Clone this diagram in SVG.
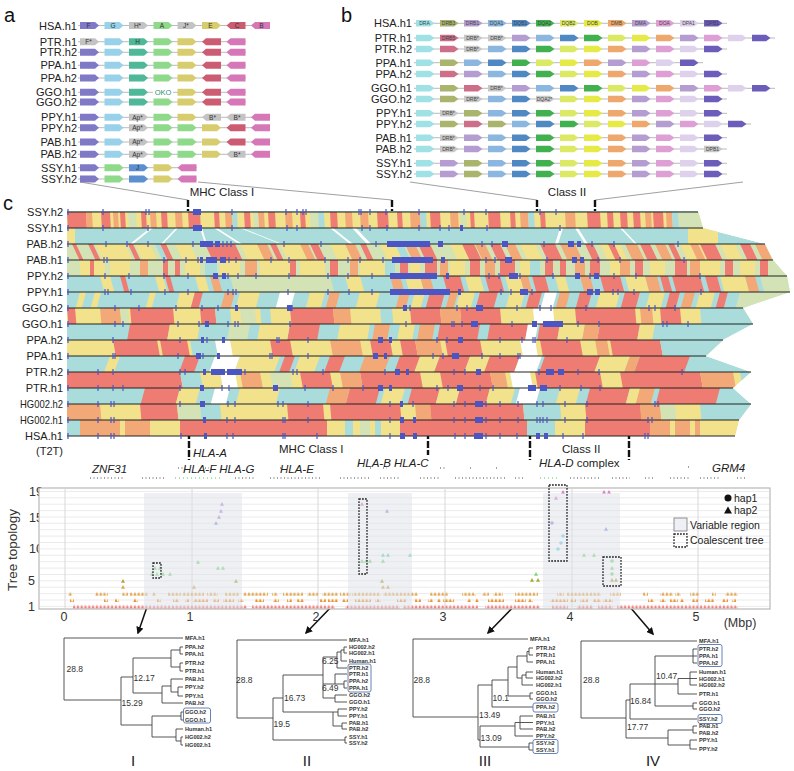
<svg xmlns="http://www.w3.org/2000/svg" width="794" height="771" viewBox="0 0 794 771">
<style>
text{font-family:"Liberation Sans",Arial,sans-serif}
.rl{font-size:11px;fill:#222}
.pl{font-size:20px;fill:#111}
.gt{font-size:6.5px;fill:#333;text-anchor:middle}
.bt{font-size:5px;fill:#444;text-anchor:middle}
.gl{stroke:#bbb;stroke-width:1;fill:none}
.pu{fill:#7f79c6}.lb1{fill:#98d2ea}.gy{fill:#c3c3c3}.tl{fill:#4fb898}.gr{fill:#8ed98a}.ye{fill:#d8cd6e}.rd{fill:#cc5c72}.pk{fill:#d677b8}.bj{fill:#5b8fd0}
.b1{fill:#a0e1e5}.b2{fill:#aab46c}.b3{fill:#b59dd2}.b4{fill:#8ab6df}.b5{fill:#4f88c3}.b6{fill:#41b04e}.b7{fill:#dce965}.b8{fill:#e6ea46}.b9{fill:#eea86e}.bA{fill:#dea0d4}.bB{fill:#ddd1eb}.bC{fill:#6b5db9}.bD{fill:#cd6f89}.bg{fill:#c8c8c8}
.cc{fill:#abdcdc}.cy{fill:#f3e28c}.cr{fill:#ee7c72}.co{fill:#f2a877}.cg{fill:#d4e3b5}.cw{fill:#fff}
.rw{stroke:#222;stroke-width:1.1}
.tk{stroke:#4b56c4;stroke-width:1.2;fill:none}
.bx{fill:#4b56c4}
.dk{stroke:#111;stroke-width:2.4;stroke-dasharray:7 2}
.cn{stroke:#888;stroke-width:.8;fill:none}
.it{font-style:italic}
.lt{font-size:11.5px;fill:#222}
.tr{stroke:#444;stroke-width:.9;fill:none}
.lf{font-size:5.6px;fill:#333;font-weight:bold}
.nm{font-size:8.5px;fill:#333}
.rn{font-size:15px;fill:#222;text-anchor:middle}
.db{fill:none;stroke:#222;stroke-width:1.3;stroke-dasharray:1.8 1.2}
.bb{fill:none;stroke:#6583b8;stroke-width:1}
.ax{font-size:12.5px;fill:#333}
.ar{stroke:#111;stroke-width:1.5;fill:none;marker-end:url(#ah)}
</style>
<defs>
<path id="R" d="M0-3.5h15l4 3.5-4 3.5H0z"/>
<path id="L" d="M19-3.5H4L0 0l4 3.5h15z"/>
<path id="B" d="M0-3.3h14l4.5 3.3-4.5 3.3H0z"/>
<path id="T" d="M-2 1.7 0-1.9 2 1.7z"/>
<clipPath id="rc"><polygon points="67,211 698,211 703,228 765,244 773,260 787,276 790,292 743,308 753,324 723,340 706,356 751,372 733,388 751,404 739,420 735,436 67,436"/></clipPath>
<pattern id="p1" patternUnits="userSpaceOnUse" x="0" y="603.4" width="3.8" height="6"><path d="M.3 5 1.9 1.2 3.5 5z" fill="#f07c7a"/></pattern>
<pattern id="p2" patternUnits="userSpaceOnUse" x="0" y="597" width="3.8" height="6"><path d="M.3 5 1.9 1.2 3.5 5z" fill="#ea9330"/></pattern>
<pattern id="p3" patternUnits="userSpaceOnUse" x="0" y="590.6" width="3.8" height="6"><path d="M.3 5 1.9 1.2 3.5 5z" fill="#dfa24a"/></pattern>
<marker id="ah" viewBox="0 0 10 10" refX="8" refY="5" markerWidth="5" markerHeight="5" orient="auto"><path d="M0 0 10 5 0 10z" fill="#111"/></marker>
</defs>
<rect width="794" height="771" fill="#fff"/>

<!-- panel letters -->
<text class="pl" x="4" y="22">a</text>
<text class="pl" x="341" y="22">b</text>
<text class="pl" x="3" y="210">c</text>

<!-- panel a -->
<g id="a-HSA-h1" transform="translate(0,25.5)"><text class="rl" x="77" y="4" text-anchor="end">HSA.h1</text><path class="gl" d="M78 0H270"/>
<use href="#R" x="80" class="pu"/><use href="#R" x="104.5" class="lb1"/><use href="#R" x="129" class="gy"/><use href="#R" x="153.5" class="gr"/><use href="#R" x="177.5" class="gy"/><use href="#R" x="202" class="ye"/><use href="#L" x="226.5" class="rd"/><use href="#L" x="251" class="pk"/>
<text class="gt"><tspan x="88.5" y="2.3">F</tspan><tspan x="113" y="2.3">G</tspan><tspan x="137.5" y="2.3">H*</tspan><tspan x="162" y="2.3">A</tspan><tspan x="186" y="2.3">J*</tspan><tspan x="210.5" y="2.3">E</tspan><tspan x="237" y="2.3">C</tspan><tspan x="261.5" y="2.3">B</tspan></text></g>
<g id="a-PTR-h1" transform="translate(0,41.7)"><text class="rl" x="77" y="4" text-anchor="end">PTR.h1</text><path class="gl" d="M78 0H246"/>
<use href="#R" x="80" class="gy"/><use href="#R" x="104.5" class="lb1"/><use href="#R" x="129" class="tl"/><use href="#R" x="153.5" class="gr"/><use href="#R" x="177.5" class="ye"/><use href="#L" x="202" class="rd"/><use href="#L" x="226.5" class="pk"/>
<text class="gt"><tspan x="88.5" y="2.3">F*</tspan><tspan x="137.5" y="2.3">H</tspan></text></g>
<g id="a-PTR-h2" transform="translate(0,52.3)"><text class="rl" x="77" y="4" text-anchor="end">PTR.h2</text><path class="gl" d="M78 0H246"/>
<use href="#R" x="80" class="pu"/><use href="#R" x="104.5" class="lb1"/><use href="#R" x="129" class="tl"/><use href="#R" x="153.5" class="gr"/><use href="#R" x="177.5" class="ye"/><use href="#L" x="202" class="rd"/><use href="#L" x="226.5" class="pk"/></g>
<g id="a-PPA-h1" transform="translate(0,65.3)"><text class="rl" x="77" y="4" text-anchor="end">PPA.h1</text><path class="gl" d="M78 0H246"/>
<use href="#R" x="80" class="pu"/><use href="#R" x="104.5" class="lb1"/><use href="#R" x="129" class="tl"/><use href="#R" x="153.5" class="gr"/><use href="#R" x="177.5" class="ye"/><use href="#L" x="202" class="rd"/><use href="#L" x="226.5" class="pk"/></g>
<g id="a-PPA-h2" transform="translate(0,78)"><text class="rl" x="77" y="4" text-anchor="end">PPA.h2</text><path class="gl" d="M78 0H246"/>
<use href="#R" x="80" class="pu"/><use href="#R" x="104.5" class="lb1"/><use href="#R" x="129" class="tl"/><use href="#R" x="153.5" class="gr"/><use href="#R" x="177.5" class="ye"/><use href="#L" x="202" class="rd"/><use href="#L" x="226.5" class="pk"/></g>
<g id="a-GGO-h1" transform="translate(0,92.3)"><text class="rl" x="77" y="4" text-anchor="end">GGO.h1</text><path class="gl" d="M78 0H246"/>
<use href="#R" x="80" class="pu"/><use href="#R" x="104.5" class="lb1"/><use href="#R" x="129" class="tl"/><rect x="153" y="-4" width="20" height="8" fill="#fff"/><use href="#R" x="177.5" class="ye"/><use href="#L" x="202" class="rd"/><use href="#L" x="226.5" class="pk"/>
<text x="163" y="2.6" text-anchor="middle" font-size="7.5" fill="#2b8f73">OKO</text></g>
<g id="a-GGO-h2" transform="translate(0,102)"><text class="rl" x="77" y="4" text-anchor="end">GGO.h2</text><path class="gl" d="M78 0H246"/>
<use href="#R" x="80" class="pu"/><use href="#R" x="104.5" class="lb1"/><use href="#R" x="129" class="tl"/><use href="#R" x="153.5" class="gr"/><use href="#R" x="177.5" class="ye"/><use href="#L" x="202" class="rd"/><use href="#L" x="226.5" class="pk"/></g>
<g id="a-PPY-h1" transform="translate(0,117.3)"><text class="rl" x="77" y="4" text-anchor="end">PPY.h1</text><path class="gl" d="M78 0H270"/>
<use href="#R" x="80" class="pu"/><use href="#R" x="104.5" class="lb1"/><use href="#R" x="129" class="gy"/><use href="#R" x="153.5" class="gr"/><use href="#R" x="177.5" class="ye"/><use href="#L" x="202" class="gy"/><use href="#L" x="226.5" class="gy"/><use href="#L" x="251" class="pk"/>
<text class="gt"><tspan x="137.5" y="2.3">Ap*</tspan><tspan x="212.5" y="2.3">B*</tspan><tspan x="237" y="2.3">B*</tspan></text></g>
<g id="a-PPY-h2" transform="translate(0,127.7)"><text class="rl" x="77" y="4" text-anchor="end">PPY.h2</text><path class="gl" d="M78 0H270"/>
<use href="#R" x="80" class="pu"/><use href="#R" x="104.5" class="lb1"/><use href="#R" x="129" class="gy"/><use href="#R" x="153.5" class="gr"/><use href="#R" x="177.5" class="gr"/><use href="#R" x="202" class="ye"/><use href="#L" x="226.5" class="rd"/><use href="#L" x="251" class="pk"/>
<text class="gt"><tspan x="137.5" y="2.3">Ap*</tspan></text></g>
<g id="a-PAB-h1" transform="translate(0,142)"><text class="rl" x="77" y="4" text-anchor="end">PAB.h1</text><path class="gl" d="M78 0H270"/>
<use href="#R" x="80" class="pu"/><use href="#R" x="104.5" class="lb1"/><use href="#R" x="129" class="gy"/><use href="#R" x="153.5" class="gr"/><use href="#R" x="177.5" class="gr"/><use href="#R" x="202" class="ye"/><use href="#L" x="226.5" class="rd"/><use href="#L" x="251" class="pk"/>
<text class="gt"><tspan x="137.5" y="2.3">Ap*</tspan></text></g>
<g id="a-PAB-h2" transform="translate(0,154.3)"><text class="rl" x="77" y="4" text-anchor="end">PAB.h2</text><path class="gl" d="M78 0H270"/>
<use href="#R" x="80" class="pu"/><use href="#R" x="104.5" class="lb1"/><use href="#R" x="129" class="gy"/><use href="#R" x="153.5" class="gr"/><use href="#R" x="177.5" class="gr"/><use href="#R" x="202" class="ye"/><use href="#L" x="226.5" class="gy"/><use href="#L" x="251" class="pk"/>
<text class="gt"><tspan x="137.5" y="2.3">Ap*</tspan><tspan x="237" y="2.3">B*</tspan></text></g>
<g id="a-SSY-h1" transform="translate(0,167.7)"><text class="rl" x="77" y="4" text-anchor="end">SSY.h1</text><path class="gl" d="M78 0H197"/>
<use href="#R" x="80" class="pu"/><use href="#R" x="104.5" class="gr"/><use href="#R" x="129" class="bj"/><use href="#R" x="153.5" class="ye"/><use href="#L" x="177.5" class="pk"/>
<text class="gt"><tspan x="137.5" y="2.3">J</tspan></text></g>
<g id="a-SSY-h2" transform="translate(0,179)"><text class="rl" x="77" y="4" text-anchor="end">SSY.h2</text><path class="gl" d="M78 0H197"/>
<use href="#R" x="80" class="pu"/><use href="#R" x="104.5" class="gr"/><use href="#R" x="129" class="bj"/><use href="#R" x="153.5" class="ye"/><use href="#L" x="177.5" class="pk"/></g>

<!-- panel b -->
<g id="b-HSA-h1" transform="translate(0,23.3)"><text class="rl" x="412" y="4" text-anchor="end">HSA.h1</text><path class="gl" d="M414 0H727"/>
<use href="#B" x="416" class="b1"/><use href="#B" x="440" class="b2"/><use href="#B" x="464" class="b3"/><use href="#B" x="488" class="b4"/><use href="#B" x="512" class="b5"/><use href="#B" x="536" class="b6"/><use href="#B" x="560" class="b7"/><use href="#B" x="584" class="b8"/><use href="#B" x="608" class="b9"/><use href="#B" x="632" class="b3"/><use href="#B" x="656" class="bA"/><use href="#B" x="680" class="bB"/><use href="#B" x="704" class="bC"/>
<text class="bt"><tspan x="424.5" y="1.8">DRA</tspan><tspan x="448.5" y="1.8">DRB3</tspan><tspan x="472.5" y="1.8">DRB1</tspan><tspan x="496.5" y="1.8">DQA1</tspan><tspan x="520.5" y="1.8">DQB1</tspan><tspan x="544.5" y="1.8">DQA2</tspan><tspan x="568.5" y="1.8">DQB2</tspan><tspan x="592.5" y="1.8">DOB</tspan><tspan x="616.5" y="1.8">DMB</tspan><tspan x="640.5" y="1.8">DMA</tspan><tspan x="664.5" y="1.8">DOA</tspan><tspan x="688.5" y="1.8">DPA1</tspan><tspan x="712.5" y="1.8">DPB1</tspan></text></g>
<g id="b-PTR-h1" transform="translate(0,38)"><text class="rl" x="412" y="4" text-anchor="end">PTR.h1</text><path class="gl" d="M414 0H775"/>
<use href="#B" x="416" class="b1"/><use href="#B" x="440" class="bD"/><use href="#B" x="464" class="bg"/><use href="#B" x="488" class="bg"/><use href="#B" x="512" class="b3"/><use href="#B" x="536" class="b4"/><use href="#B" x="560" class="b5"/><use href="#B" x="584" class="b6"/><use href="#B" x="608" class="b7"/><use href="#B" x="632" class="b8"/><use href="#B" x="656" class="b9"/><use href="#B" x="680" class="b3"/><use href="#B" x="704" class="bA"/><use href="#B" x="728" class="bB"/><use href="#B" x="752" class="bC"/>
<text class="bt"><tspan x="448.5" y="1.8">DRB5</tspan><tspan x="472.5" y="1.8">DRB*</tspan><tspan x="496.5" y="1.8">DRB*</tspan></text></g>
<g id="b-PTR-h2" transform="translate(0,49)"><text class="rl" x="412" y="4" text-anchor="end">PTR.h2</text><path class="gl" d="M414 0H727"/>
<use href="#B" x="416" class="b1"/><use href="#B" x="440" class="bD"/><use href="#B" x="464" class="bg"/><use href="#B" x="488" class="b4"/><use href="#B" x="512" class="b5"/><use href="#B" x="536" class="b6"/><use href="#B" x="560" class="b7"/><use href="#B" x="584" class="b8"/><use href="#B" x="608" class="b9"/><use href="#B" x="632" class="b3"/><use href="#B" x="656" class="bA"/><use href="#B" x="680" class="bB"/><use href="#B" x="704" class="bC"/>
<text class="bt"><tspan x="472.5" y="1.8">DRB*</tspan></text></g>
<g id="b-PPA-h1" transform="translate(0,62.7)"><text class="rl" x="412" y="4" text-anchor="end">PPA.h1</text><path class="gl" d="M414 0H703"/>
<use href="#B" x="416" class="b1"/><use href="#B" x="440" class="b2"/><use href="#B" x="464" class="b4"/><use href="#B" x="488" class="b5"/><use href="#B" x="512" class="b6"/><use href="#B" x="536" class="b7"/><use href="#B" x="560" class="b8"/><use href="#B" x="584" class="b9"/><use href="#B" x="608" class="b3"/><use href="#B" x="632" class="bA"/><use href="#B" x="656" class="bB"/><use href="#B" x="680" class="bC"/></g>
<g id="b-PPA-h2" transform="translate(0,74)"><text class="rl" x="412" y="4" text-anchor="end">PPA.h2</text><path class="gl" d="M414 0H727"/>
<use href="#B" x="416" class="b1"/><use href="#B" x="440" class="bD"/><use href="#B" x="464" class="b3"/><use href="#B" x="488" class="b4"/><use href="#B" x="512" class="b5"/><use href="#B" x="536" class="b6"/><use href="#B" x="560" class="b7"/><use href="#B" x="584" class="b8"/><use href="#B" x="608" class="b9"/><use href="#B" x="632" class="b3"/><use href="#B" x="656" class="bA"/><use href="#B" x="680" class="bB"/><use href="#B" x="704" class="bC"/></g>
<g id="b-GGO-h1" transform="translate(0,88.3)"><text class="rl" x="412" y="4" text-anchor="end">GGO.h1</text><path class="gl" d="M414 0H775"/>
<use href="#B" x="416" class="b1"/><use href="#B" x="440" class="b2"/><use href="#B" x="464" class="bD"/><use href="#B" x="488" class="bg"/><use href="#B" x="512" class="b3"/><use href="#B" x="536" class="b4"/><use href="#B" x="560" class="b5"/><use href="#B" x="584" class="b6"/><use href="#B" x="608" class="b7"/><use href="#B" x="632" class="b8"/><use href="#B" x="656" class="b9"/><use href="#B" x="680" class="b3"/><use href="#B" x="704" class="bA"/><use href="#B" x="728" class="bB"/><use href="#B" x="752" class="bC"/>
<text class="bt"><tspan x="496.5" y="1.8">DRB*</tspan></text></g>
<g id="b-GGO-h2" transform="translate(0,99)"><text class="rl" x="412" y="4" text-anchor="end">GGO.h2</text><path class="gl" d="M414 0H727"/>
<use href="#B" x="416" class="b1"/><use href="#B" x="440" class="b2"/><use href="#B" x="464" class="bg"/><use href="#B" x="488" class="b4"/><use href="#B" x="512" class="b5"/><use href="#B" x="536" class="bg"/><use href="#B" x="560" class="b7"/><use href="#B" x="584" class="b8"/><use href="#B" x="608" class="b9"/><use href="#B" x="632" class="b3"/><use href="#B" x="656" class="bA"/><use href="#B" x="680" class="bB"/><use href="#B" x="704" class="bC"/>
<text class="bt"><tspan x="472.5" y="1.8">DRB*</tspan><tspan x="544.5" y="1.8">DQA2*</tspan></text></g>
<g id="b-PPY-h1" transform="translate(0,113.3)"><text class="rl" x="412" y="4" text-anchor="end">PPY.h1</text><path class="gl" d="M414 0H727"/>
<use href="#B" x="416" class="b1"/><use href="#B" x="440" class="bg"/><use href="#B" x="464" class="b2"/><use href="#B" x="488" class="b4"/><use href="#B" x="512" class="b5"/><use href="#B" x="536" class="b6"/><use href="#B" x="560" class="b7"/><use href="#B" x="584" class="b8"/><use href="#B" x="608" class="b9"/><use href="#B" x="632" class="b3"/><use href="#B" x="656" class="bA"/><use href="#B" x="680" class="bB"/><use href="#B" x="704" class="bC"/>
<text class="bt"><tspan x="448.5" y="1.8">DRB*</tspan></text></g>
<g id="b-PPY-h2" transform="translate(0,124)"><text class="rl" x="412" y="4" text-anchor="end">PPY.h2</text><path class="gl" d="M414 0H751"/>
<use href="#B" x="416" class="b1"/><use href="#B" x="440" class="b2"/><use href="#B" x="464" class="bD"/><use href="#B" x="488" class="b2"/><use href="#B" x="512" class="b4"/><use href="#B" x="536" class="b5"/><use href="#B" x="560" class="b6"/><use href="#B" x="584" class="b7"/><use href="#B" x="608" class="b8"/><use href="#B" x="632" class="b9"/><use href="#B" x="656" class="b3"/><use href="#B" x="680" class="bA"/><use href="#B" x="704" class="bB"/><use href="#B" x="728" class="bC"/></g>
<g id="b-PAB-h1" transform="translate(0,137.7)"><text class="rl" x="412" y="4" text-anchor="end">PAB.h1</text><path class="gl" d="M414 0H727"/>
<use href="#B" x="416" class="b1"/><use href="#B" x="440" class="bg"/><use href="#B" x="464" class="b3"/><use href="#B" x="488" class="b4"/><use href="#B" x="512" class="b5"/><use href="#B" x="536" class="b6"/><use href="#B" x="560" class="b7"/><use href="#B" x="584" class="b8"/><use href="#B" x="608" class="b9"/><use href="#B" x="632" class="b3"/><use href="#B" x="656" class="bA"/><use href="#B" x="680" class="bB"/><use href="#B" x="704" class="bC"/>
<text class="bt"><tspan x="448.5" y="1.8">DRB*</tspan></text></g>
<g id="b-PAB-h2" transform="translate(0,149)"><text class="rl" x="412" y="4" text-anchor="end">PAB.h2</text><path class="gl" d="M414 0H727"/>
<use href="#B" x="416" class="b1"/><use href="#B" x="440" class="bg"/><use href="#B" x="464" class="b3"/><use href="#B" x="488" class="b4"/><use href="#B" x="512" class="b5"/><use href="#B" x="536" class="b6"/><use href="#B" x="560" class="b7"/><use href="#B" x="584" class="b8"/><use href="#B" x="608" class="b9"/><use href="#B" x="632" class="b3"/><use href="#B" x="656" class="bA"/><use href="#B" x="680" class="bB"/><use href="#B" x="704" class="bg"/>
<text class="bt"><tspan x="448.5" y="1.8">DRB*</tspan><tspan x="712.5" y="1.8">DPB1</tspan></text></g>
<g id="b-SSY-h1" transform="translate(0,163.3)"><text class="rl" x="412" y="4" text-anchor="end">SSY.h1</text><path class="gl" d="M414 0H727"/>
<use href="#B" x="416" class="b1"/><use href="#B" x="440" class="b3"/><use href="#B" x="464" class="b2"/><use href="#B" x="488" class="b4"/><use href="#B" x="512" class="b5"/><use href="#B" x="536" class="b6"/><use href="#B" x="560" class="b7"/><use href="#B" x="584" class="b8"/><use href="#B" x="608" class="b9"/><use href="#B" x="632" class="b3"/><use href="#B" x="656" class="bA"/><use href="#B" x="680" class="bB"/><use href="#B" x="704" class="bC"/></g>
<g id="b-SSY-h2" transform="translate(0,174)"><text class="rl" x="412" y="4" text-anchor="end">SSY.h2</text><path class="gl" d="M414 0H727"/>
<use href="#B" x="416" class="b1"/><use href="#B" x="440" class="b3"/><use href="#B" x="464" class="b2"/><use href="#B" x="488" class="b4"/><use href="#B" x="512" class="b5"/><use href="#B" x="536" class="b6"/><use href="#B" x="560" class="b7"/><use href="#B" x="584" class="b8"/><use href="#B" x="608" class="b9"/><use href="#B" x="632" class="b3"/><use href="#B" x="656" class="bA"/><use href="#B" x="680" class="bB"/><use href="#B" x="704" class="bC"/></g>

<!-- connectors -->
<g id="connectors">
<path class="cn" d="M80 182L188 200M198 182L392 200M410 182L537 200M743 182L595 200"/>
<path class="dk" d="M188 200V219M392 200V219M537 200V219M595 200V219"/>
<path class="dk" d="M189 432V460M428 432V455M530 432V460M629 432V460"/>
<path class="ar" d="M157 578L138 633"/>
<path class="ar" d="M363 574L306 633"/>
<path class="ar" d="M558 561L488 633"/>
<path class="ar" d="M612 586L653 634"/>
</g>
<text class="lt" x="222" y="196" text-anchor="middle">MHC Class I</text>
<text class="lt" x="567" y="196" text-anchor="middle">Class II</text>

<!-- panel c ribbons -->
<g id="ribbons" clip-path="url(#rc)">
<polygon class="cc" points="67,211 698,211 703,228 765,244 773,260 787,276 790,292 743,308 753,324 723,340 706,356 751,372 733,388 751,404 739,420 735,436 67,436"/>
<g transform="translate(0,212) skewX(3)">
<path class="cy" d="M60 0h660v16h-660z"/>
<path class="cr" d="M67 0h19v16h-19zM101 0h9v16h-9zM120 0h5v16h-5zM141 0h5v16h-5zM161 0h6v16h-6zM188 0h12v16h-12zM214 0h5v16h-5zM244 0h6v16h-6zM268 0h7v16h-7zM300 0h5v16h-5zM330 0h7v16h-7zM377 0h11v16h-11zM397 0h5v16h-5zM430 0h10v16h-10zM470 0h4v16h-4zM488 0h12v16h-12zM510 0h5v16h-5zM540 0h5v16h-5zM587 0h13v16h-13zM607 0h6v16h-6zM620 0h7v16h-7zM633 0h7v16h-7zM653 0h10v16h-10z"/>
<path class="co" d="M86 0h6v16h-6zM113 0h5v16h-5zM150 0h6v16h-6zM175 0h7v16h-7zM225 0h7v16h-7zM258 0h6v16h-6zM285 0h7v16h-7zM345 0h7v16h-7zM360 0h8v16h-8zM410 0h10v16h-10zM450 0h8v16h-8zM520 0h8v16h-8zM565 0h10v16h-10zM645 0h6v16h-6zM666 0h6v16h-6z"/>
<path class="cg" d="M128 0h8v16h-8zM253 0h5v16h-5zM310 0h8v16h-8zM460 0h6v16h-6zM678 0h30v16h-30z"/>
<path class="cc" d="M232 0h5v16h-5zM318 0h6v16h-6zM420 0h6v16h-6zM528 0h6v16h-6zM672 0h6v16h-6z"/>
</g>
<g transform="translate(0,228)">
<path class="cy" d="M67 0h8v16h-8zM688 0h30v16h-30z"/>
<path class="cw" d="M150 0h3l-20 16h-3zM176 0h2l-15 16h-2zM200 0h2l5 16h-2zM214 0h3l25 16h-3zM240 0h2l40 16h-2zM330 0h3l20 16h-3zM352 0h4l15 16h-4zM560 0h3l-5 16h-3zM575 0h3l10 16h-3zM620 0h2l15 16h-2z"/>
</g>
<g transform="translate(0,244) skewX(25)">
<path class="cg" d="M40 0h760v16h-760z"/>
<path class="cy" d="M95 0h30v16h-30zM135 0h15v16h-15zM175 0h15v16h-15zM240 0h20v16h-20zM280 0h25v16h-25zM330 0h25v16h-25zM380 0h20v16h-20zM450 0h15v16h-15zM520 0h15v16h-15zM600 0h20v16h-20zM680 0h20v16h-20zM720 0h15v16h-15z"/>
<path class="cr" d="M72 0h4v16h-4zM88 0h5v16h-5zM128 0h5v16h-5zM160 0h6v16h-6zM205 0h30v16h-30zM270 0h6v16h-6zM310 0h8v16h-8zM360 0h6v16h-6zM418 0h12v16h-12zM462 0h12v16h-12zM490 0h10v16h-10zM540 0h15v16h-15zM585 0h8v16h-8zM608 0h6v16h-6zM640 0h10v16h-10zM668 0h6v16h-6zM700 0h15v16h-15zM740 0h10v16h-10z"/>
<path class="co" d="M257 0h10v16h-10zM300 0h8v16h-8zM345 0h10v16h-10zM405 0h10v16h-10zM475 0h10v16h-10zM505 0h10v16h-10zM560 0h15v16h-15zM625 0h12v16h-12zM655 0h10v16h-10zM690 0h8v16h-8zM755 0h10v16h-10z"/>
<path class="cc" d="M155 0h5v16h-5zM395 0h8v16h-8z"/>
</g>
<g transform="translate(0,260)">
<path class="cg" d="M60 0h740v16h-740z"/>
<path class="cy" d="M80 0h25v16h-25zM110 0h20v16h-20zM185 0h15v16h-15zM220 0h20v16h-20zM260 0h30v16h-30zM300 0h25v16h-25zM360 0h25v16h-25zM410 0h10v16h-10zM450 0h15v16h-15zM520 0h20v16h-20zM610 0h15v16h-15zM650 0h15v16h-15zM700 0h20v16h-20zM740 0h15v16h-15z"/>
<path class="cr" d="M90 0h4v16h-4zM163 0h5v16h-5zM175 0h5v16h-5zM290 0h6v16h-6zM330 0h8v16h-8zM400 0h8v16h-8zM425 0h12v16h-12zM470 0h10v16h-10zM500 0h15v16h-15zM545 0h8v16h-8zM560 0h6v16h-6zM590 0h10v16h-10zM635 0h8v16h-8zM675 0h12v16h-12zM725 0h8v16h-8zM760 0h8v16h-8z"/>
<path class="co" d="M140 0h8v16h-8zM245 0h12v16h-12zM350 0h8v16h-8zM440 0h8v16h-8zM485 0h10v16h-10zM575 0h10v16h-10zM620 0h10v16h-10zM690 0h10v16h-10z"/>
<path class="cc" d="M205 0h12v16h-12zM385 0h10v16h-10zM530 0h10v16h-10z"/>
</g>
<g transform="translate(0,276) skewX(15)">
<path class="cg" d="M230 0h100v16h-100zM760 0h40v16h-40z"/>
<path class="cy" d="M100 0h10v16h-10zM155 0h8v16h-8zM195 0h10v16h-10zM345 0h15v16h-15zM405 0h15v16h-15zM465 0h15v16h-15zM505 0h15v16h-15zM555 0h10v16h-10zM625 0h20v16h-20zM720 0h25v16h-25z"/>
<path class="cr" d="M120 0h5v16h-5zM165 0h5v16h-5zM443 0h17v16h-17zM485 0h15v16h-15zM532 0h13v16h-13zM600 0h20v16h-20zM660 0h8v16h-8zM672 0h28v16h-28zM705 0h12v16h-12z"/>
<path class="co" d="M210 0h8v16h-8zM390 0h10v16h-10zM420 0h10v16h-10zM520 0h8v16h-8zM580 0h10v16h-10zM645 0h12v16h-12zM745 0h10v16h-10z"/>
</g>
<g transform="translate(0,292) skewX(-15)">
<path class="cy" d="M80 0h6v16h-6zM95 0h6v16h-6zM150 0h6v16h-6zM180 0h15v16h-15zM240 0h20v16h-20zM310 0h15v16h-15zM360 0h20v16h-20zM415 0h10v16h-10zM460 0h15v16h-15zM510 0h15v16h-15zM600 0h20v16h-20zM650 0h15v16h-15zM700 0h15v16h-15z"/>
<path class="cr" d="M195 0h8v16h-8zM430 0h15v16h-15zM480 0h18v16h-18zM530 0h12v16h-12zM580 0h12v16h-12zM625 0h15v16h-15zM670 0h10v16h-10zM720 0h8v16h-8z"/>
<path class="co" d="M225 0h10v16h-10zM330 0h10v16h-10zM400 0h10v16h-10zM450 0h8v16h-8zM560 0h10v16h-10zM685 0h10v16h-10z"/>
<path class="cw" d="M280 0h15v16h-15zM545 0h12v16h-12z"/>
<path class="cg" d="M740 0h60v16h-60z"/>
</g>
<g transform="translate(0,308) skewX(5)">
<path class="cy" d="M55 0h745v16h-745z"/>
<path class="cr" d="M67 0h8v16h-8zM130 0h43v16h-43zM200 0h15v16h-15zM290 0h43v16h-43zM410 0h30v16h-30zM460 0h40v16h-40zM575 0h60v16h-60zM660 0h20v16h-20z"/>
<path class="co" d="M100 0h20v16h-20zM333 0h17v16h-17zM440 0h20v16h-20zM640 0h12v16h-12z"/>
<path class="cc" d="M215 0h15v16h-15zM260 0h10v16h-10zM380 0h12v16h-12zM700 0h100v16h-100z"/>
<path class="cw" d="M533 0h20v16h-20z"/>
<path class="cg" d="M120 0h8v16h-8zM240 0h15v16h-15z"/>
</g>
<g transform="translate(0,324) skewX(-10)">
<path class="cr" d="M130 0h40v16h-40zM290 0h30v16h-30zM440 0h40v16h-40zM490 0h38v16h-38zM540 0h20v16h-20zM600 0h40v16h-40z"/>
<path class="cy" d="M170 0h30v16h-30zM260 0h30v16h-30zM340 0h30v16h-30zM400 0h15v16h-15zM560 0h25v16h-25zM640 0h15v16h-15z"/>
<path class="co" d="M375 0h15v16h-15zM420 0h15v16h-15zM585 0h15v16h-15z"/>
<path class="cw" d="M528 0h10v16h-10z"/>
<path class="cg" d="M230 0h20v16h-20z"/>
</g>
<g transform="translate(0,340) skewX(10)">
<path class="cy" d="M55 0h745v16h-745z"/>
<path class="cr" d="M113 0h44v16h-44zM160 0h27v16h-27zM270 0h20v16h-20zM370 0h20v16h-20zM400 0h15v16h-15zM445 0h35v16h-35zM540 0h40v16h-40zM610 0h50v16h-50z"/>
<path class="co" d="M330 0h30v16h-30zM415 0h25v16h-25zM595 0h12v16h-12z"/>
<path class="cc" d="M190 0h25v16h-25zM660 0h80v16h-80z"/>
<path class="cw" d="M215 0h15v16h-15zM520 0h15v16h-15z"/>
</g>
<g transform="translate(0,356) skewX(-20)">
<path class="cy" d="M110 0h10v16h-10zM240 0h40v16h-40zM300 0h20v16h-20zM420 0h20v16h-20zM470 0h20v16h-20zM600 0h30v16h-30z"/>
<path class="cr" d="M185 0h15v16h-15zM285 0h10v16h-10zM330 0h15v16h-15zM400 0h20v16h-20zM440 0h30v16h-30zM490 0h30v16h-30zM545 0h55v16h-55zM640 0h50v16h-50z"/>
<path class="co" d="M365 0h25v16h-25zM630 0h10v16h-10z"/>
<path class="cw" d="M215 0h25v16h-25zM520 0h22v16h-22z"/>
</g>
<g transform="translate(0,372) skewX(10)">
<path class="cy" d="M55 0h745v16h-745z"/>
<path class="cr" d="M55 0h125v16h-125zM300 0h30v16h-30zM360 0h60v16h-60zM440 0h50v16h-50zM535 0h65v16h-65zM620 0h80v16h-80z"/>
<path class="cc" d="M180 0h20v16h-20zM740 0h60v16h-60z"/>
<path class="cw" d="M220 0h15v16h-15zM510 0h20v16h-20z"/>
<path class="co" d="M240 0h20v16h-20zM340 0h20v16h-20zM490 0h15v16h-15zM700 0h33v16h-33z"/>
<path class="cg" d="M270 0h20v16h-20z"/>
</g>
<g transform="translate(0,388) skewX(-15)">
<path class="cr" d="M145 0h35v16h-35zM350 0h30v16h-30zM412 0h28v16h-28zM460 0h30v16h-30zM590 0h40v16h-40zM660 0h60v16h-60z"/>
<path class="cy" d="M180 0h20v16h-20zM240 0h40v16h-40zM385 0h20v16h-20zM440 0h20v16h-20zM490 0h25v16h-25zM560 0h20v16h-20zM630 0h25v16h-25z"/>
<path class="cw" d="M520 0h20v16h-20zM215 0h15v16h-15z"/>
<path class="co" d="M330 0h20v16h-20zM640 0h15v16h-15z"/>
</g>
<g transform="translate(0,404) skewX(5)">
<path class="cy" d="M55 0h745v16h-745z"/>
<path class="co" d="M55 0h45v16h-45zM415 0h15v16h-15zM640 0h20v16h-20z"/>
<path class="cr" d="M140 0h37v16h-37zM287 0h36v16h-36zM330 0h70v16h-70zM430 0h93v16h-93zM585 0h55v16h-55z"/>
<path class="cg" d="M177 0h23v16h-23zM660 0h15v16h-15z"/>
<path class="cc" d="M200 0h20v16h-20zM523 0h37v16h-37zM700 0h100v16h-100z"/>
</g>
<g transform="translate(0,420)">
<path class="cy" d="M55 0h745v16h-745z"/>
<path class="co" d="M80 0h70v16h-70zM650 0h50v16h-50z"/>
<path class="cr" d="M180 0h147v16h-147zM400 0h127v16h-127zM585 0h65v16h-65z"/>
<path class="cc" d="M55 0h25v16h-25zM527 0h28v16h-28zM345 0h8v16h-8zM375 0h6v16h-6z"/>
<path class="cg" d="M360 0h10v16h-10z"/>
<path class="cy" d="M120 0h5v16h-5zM670 0h5v16h-5zM690 0h5v16h-5z"/>
</g>
</g>

<!-- panel c rows -->
<g id="c-SSY-h2" transform="translate(0,212)"><text class="rl" x="63" y="4" text-anchor="end">SSY.h2</text><path class="rw" d="M67 0H698"/>
<path class="tk" d="M68-3v6M103-3v6M146-3v6M149-3v6M232-3v6M286-3v6M297-3v6M303-3v6M306-3v6M359-3v6M361-3v6M370-3v6M386-3v6M419-3v6M464-3v6M486-3v6M540-3v6M556-3v6"/>
<path class="bx" d="M193-3h8v6h-8z"/></g>
<g id="c-SSY-h1" transform="translate(0,228)"><text class="rl" x="63" y="4" text-anchor="end">SSY.h1</text><path class="rw" d="M67 0H703"/>
<path class="tk" d="M68-3v6M103-3v6M148-3v6M232-3v6M287-3v6M297-3v6M362-3v6M370-3v6M387-3v6M419-3v6M440-3v6M449-3v6M487-3v6M560-3v6"/>
<path class="bx" d="M193-3h9v6h-9zM460-3h3v6h-3z"/></g>
<g id="c-PAB-h2" transform="translate(0,244)"><text class="rl" x="63" y="4" text-anchor="end">PAB.h2</text><path class="rw" d="M67 0H765"/>
<path class="tk" d="M68-3v6M106-3v6M127-3v6M148-3v6M193-3v6M223-3v6M227-3v6M231-3v6M284-3v6M321-3v6M376-3v6M482-3v6M492-3v6M544-3v6M592-3v6M614-3v6M678-3v6"/>
<path class="bx" d="M200-3h13v6h-13zM215-3h5v6h-5zM387-3h43v6h-43zM438-3h5v6h-5zM502-3h6v6h-6zM568-3h6v6h-6zM577-3h4v6h-4z"/></g>
<g id="c-PAB-h1" transform="translate(0,260)"><text class="rl" x="63" y="4" text-anchor="end">PAB.h1</text><path class="rw" d="M67 0H773"/>
<path class="tk" d="M68-3v6M104-3v6M107-3v6M164-3v6M186-3v6M198-3v6M229-3v6M236-3v6M271-3v6M289-3v6M325-3v6M348-3v6M360-3v6M383-3v6M486-3v6M495-3v6M547-3v6M598-3v6M620-3v6M684-3v6"/>
<path class="bx" d="M200-3h3v6h-3zM206-3h11v6h-11zM220-3h6v6h-6zM392-3h41v6h-41zM441-3h4v6h-4zM505-3h7v6h-7zM572-3h5v6h-5zM580-3h4v6h-4z"/></g>
<g id="c-PPY-h2" transform="translate(0,276)"><text class="rl" x="63" y="4" text-anchor="end">PPY.h2</text><path class="rw" d="M67 0H787"/>
<path class="tk" d="M68-3v6M105-3v6M129-3v6M164-3v6M188-3v6M228-3v6M238-3v6M256-3v6M289-3v6M328-3v6M348-3v6M372-3v6M489-3v6M499-3v6M520-3v6M553-3v6M590-3v6M614-3v6M636-3v6M700-3v6"/>
<path class="bx" d="M213-3h5v6h-5zM222-3h4v6h-4zM390-3h47v6h-47zM446-3h3v6h-3zM509-3h9v6h-9zM575-3h5v6h-5zM594-3h5v6h-5z"/></g>
<g id="c-PPY-h1" transform="translate(0,292)"><text class="rl" x="63" y="4" text-anchor="end">PPY.h1</text><path class="rw" d="M67 0H790"/>
<path class="tk" d="M68-3v6M105-3v6M108-3v6M131-3v6M165-3v6M188-3v6M228-3v6M233-3v6M236-3v6M288-3v6M328-3v6M349-3v6M372-3v6M501-3v6M511-3v6M532-3v6M613-3v6M618-3v6M634-3v6M701-3v6"/>
<path class="bx" d="M390-3h60v6h-60zM458-3h3v6h-3zM520-3h8v6h-8zM587-3h6v6h-6zM595-3h5v6h-5z"/></g>
<g id="c-GGO-h2" transform="translate(0,308)"><text class="rl" x="63" y="4" text-anchor="end">GGO.h2</text><path class="rw" d="M67 0H743"/>
<path class="tk" d="M68-3v6M115-3v6M139-3v6M176-3v6M202-3v6M218-3v6M292-3v6M410-3v6M457-3v6M467-3v6M517-3v6M540-3v6M551-3v6M586-3v6M649-3v6M655-3v6M675-3v6"/>
<path class="bx" d="M235-3h3v6h-3zM287-3h5v6h-5zM403-3h4v6h-4zM476-3h7v6h-7z"/></g>
<g id="c-GGO-h1" transform="translate(0,324)"><text class="rl" x="63" y="4" text-anchor="end">GGO.h1</text><path class="rw" d="M67 0H753"/>
<path class="tk" d="M68-3v6M115-3v6M123-3v6M178-3v6M199-3v6M228-3v6M235-3v6M238-3v6M290-3v6M406-3v6M452-3v6M454-3v6M462-3v6M512-3v6M578-3v6M599-3v6M663-3v6M667-3v6M688-3v6"/>
<path class="bx" d="M205-3h4v6h-4zM471-3h7v6h-7zM532-3h5v6h-5zM543-3h20v6h-20z"/></g>
<g id="c-PPA-h2" transform="translate(0,340)"><text class="rl" x="63" y="4" text-anchor="end">PPA.h2</text><path class="rw" d="M67 0H723"/>
<path class="tk" d="M68-3v6M113-3v6M180-3v6M207-3v6M277-3v6M279-3v6M308-3v6M437-3v6M447-3v6M500-3v6M522-3v6M533-3v6M535-3v6M567-3v6"/>
<path class="bx" d="M201-3h3v6h-3zM222-3h3v6h-3zM378-3h5v6h-5zM389-3h3v6h-3zM458-3h5v6h-5z"/></g>
<g id="c-PPA-h1" transform="translate(0,356)"><text class="rl" x="63" y="4" text-anchor="end">PPA.h1</text><path class="rw" d="M67 0H706"/>
<path class="tk" d="M68-3v6M113-3v6M115-3v6M178-3v6M203-3v6M270-3v6M272-3v6M308-3v6M433-3v6M443-3v6M482-3v6M500-3v6M518-3v6M520-3v6"/>
<path class="bx" d="M196-3h5v6h-5zM217-3h3v6h-3zM373-3h5v6h-5zM384-3h3v6h-3zM452-3h7v6h-7z"/></g>
<g id="c-PTR-h2" transform="translate(0,372)"><text class="rl" x="63" y="4" text-anchor="end">PTR.h2</text><path class="rw" d="M67 0H751"/>
<path class="tk" d="M68-3v6M98-3v6M113-3v6M180-3v6M185-3v6M245-3v6M293-3v6M297-3v6M323-3v6M385-3v6M454-3v6M465-3v6M539-3v6M578-3v6M599-3v6M682-3v6"/>
<path class="bx" d="M203-3h3v6h-3zM211-3h14v6h-14zM227-3h15v6h-15zM395-3h5v6h-5zM406-3h3v6h-3zM476-3h5v6h-5zM546-3h8v6h-8zM558-3h6v6h-6z"/></g>
<g id="c-PTR-h1" transform="translate(0,388)"><text class="rl" x="63" y="4" text-anchor="end">PTR.h1</text><path class="rw" d="M67 0H733"/>
<path class="tk" d="M68-3v6M98-3v6M113-3v6M123-3v6M180-3v6M222-3v6M229-3v6M305-3v6M333-3v6M363-3v6M437-3v6M448-3v6M480-3v6M493-3v6M560-3v6M581-3v6M600-3v6"/>
<path class="bx" d="M200-3h4v6h-4zM273-3h5v6h-5zM378-3h5v6h-5zM389-3h3v6h-3zM457-3h6v6h-6zM528-3h8v6h-8zM540-3h7v6h-7z"/></g>
<g id="c-HG002-h2" transform="translate(0,404)"><text class="rl" x="63" y="4" text-anchor="end" textLength="43" lengthAdjust="spacingAndGlyphs">HG002.h2</text><path class="rw" d="M67 0H751"/>
<path class="tk" d="M68-3v6M98-3v6M111-3v6M114-3v6M180-3v6M228-3v6M235-3v6M278-3v6M283-3v6M308-3v6M390-3v6M413-3v6M454-3v6M465-3v6M486-3v6M500-3v6M518-3v6M537-3v6M543-3v6M565-3v6M587-3v6M655-3v6M658-3v6"/>
<path class="bx" d="M200-3h5v6h-5zM400-3h3v6h-3zM475-3h8v6h-8z"/></g>
<g id="c-HG002-h1" transform="translate(0,420)"><text class="rl" x="63" y="4" text-anchor="end" textLength="43" lengthAdjust="spacingAndGlyphs">HG002.h1</text><path class="rw" d="M67 0H739"/>
<path class="tk" d="M68-3v6M98-3v6M111-3v6M114-3v6M227-3v6M235-3v6M283-3v6M285-3v6M308-3v6M390-3v6M454-3v6M465-3v6M486-3v6M500-3v6M518-3v6M537-3v6M540-3v6M543-3v6M547-3v6M565-3v6M587-3v6M648-3v6M652-3v6"/>
<path class="bx" d="M203-3h3v6h-3zM400-3h4v6h-4zM413-3h3v6h-3zM475-3h8v6h-8z"/></g>
<g id="c-HSA-h1" transform="translate(0,436)"><text class="rl" x="63" y="4" text-anchor="end">HSA.h1</text><path class="rw" d="M67 0H735"/>
<path class="tk" d="M68-3v6M98-3v6M111-3v6M114-3v6M181-3v6M227-3v6M233-3v6M283-3v6M285-3v6M317-3v6M390-3v6M455-3v6M465-3v6M486-3v6M500-3v6M517-3v6M563-3v6M583-3v6M645-3v6M648-3v6"/>
<path class="bx" d="M204-3h3v6h-3zM400-3h5v6h-5zM413-3h4v6h-4zM474-3h9v6h-9zM536-3h4v6h-4zM544-3h4v6h-4z"/></g>
<text class="rl" x="36" y="455">(T2T)</text>

<!-- c annotations -->
<g id="c-annot" font-size="11.5" fill="#222">
<text class="it" x="193" y="457">HLA-A</text>
<text x="279" y="453">MHC Class I</text>
<text class="it" x="92" y="473">ZNF31</text>
<text class="it" x="183" y="473">HLA-F HLA-G</text>
<text class="it" x="280" y="473">HLA-E</text>
<text class="it" x="357" y="467">HLA-B HLA-C</text>
<text x="562" y="453">Class II</text>
<text x="539" y="467"><tspan class="it">HLA-D</tspan> complex</text>
<text class="it" x="712" y="472">GRM4</text>
</g>
<path stroke="#444" stroke-width="1" stroke-dasharray="1 2.5" fill="none" d="M90 478H125M142 478H165M235 478H255M270 478H320M340 478H370M380 478H400M420 478H440M455 478H505M515 478H525M570 478H600M612 478H630M645 478H655M670 478H690M700 478H720M737 478H745M178 468H184M205 468H209M280 468H283M370 468H372M383 468H387M440 468H446M470 468H472M496 468H498M688 467H690"/>
<path stroke="#5c5" stroke-width="1" stroke-dasharray="1 3" fill="none" d="M175 478H220M540 478H560"/>

<!-- scatter plot -->
<g id="plot">
<g class="ax"><text x="29" y="495.5">19</text><text x="29" y="521.5">15</text><text x="29" y="553">10</text><text x="28" y="585">5</text><text x="28" y="611">1</text></g>
<rect x="39" y="488" width="731" height="121" fill="#fff" stroke="#aaa" stroke-width="1"/>
<path stroke="#e6e6e6" stroke-width=".8" fill="none" d="M40 606.4H769M40 600H769M40 593.6H769M40 587.2H769M40 580.8H769M40 574.5H769M40 568.1H769M40 561.7H769M40 555.3H769M40 548.9H769M40 542.5H769M40 536.1H769M40 529.7H769M40 523.3H769M40 517H769M40 510.6H769M40 504.2H769M40 497.8H769M40 491.4H769"/>
<path stroke="#d8d8d8" stroke-width="1" fill="none" d="M65 489V608M192 489V608M318 489V608M445 489V608M572 489V608M698 489V608"/>
<path fill="url(#p1)" d="M73 603.4h174v6h-174zM252 603.4h83v6h-83zM345 603.4h55v6h-55zM403 603.4h75v6h-75zM485 603.4h55v6h-55zM552 603.4h16v6h-16zM577 603.4h16v6h-16zM598 603.4h15v6h-15zM617 603.4h121v6h-121z"/>
<path fill="url(#p2)" d="M70 597h4v6h-4zM104 597h4v6h-4zM115 597h4v6h-4zM133 597h5v6h-5zM157 597h4v6h-4zM173 597h6v6h-6zM185 597h4v6h-4zM193 597h15v6h-15zM213 597h6v6h-6zM223 597h11v6h-11zM238 597h6v6h-6zM255 597h9v6h-9zM273 597h6v6h-6zM287 597h5v6h-5zM297 597h7v6h-7zM320 597h6v6h-6zM328 597h10v6h-10zM342 597h6v6h-6zM355 597h16v6h-16zM375 597h6v6h-6zM397 597h9v6h-9zM415 597h6v6h-6zM428 597h5v6h-5zM437 597h4v6h-4zM443 597h11v6h-11zM467 597h4v6h-4zM475 597h4v6h-4zM488 597h16v6h-16zM515 597h11v6h-11zM528 597h5v6h-5zM550 597h18v6h-18zM570 597h6v6h-6zM580 597h8v6h-8zM593 597h8v6h-8zM603 597h10v6h-10zM648 597h6v6h-6zM660 597h6v6h-6zM670 597h8v6h-8zM680 597h4v6h-4zM692 597h6v6h-6zM705 597h9v6h-9zM722 597h6v6h-6zM732 597h4v6h-4z"/>
<path fill="url(#p3)" d="M68 590.6h4v6h-4zM95 590.6h13v6h-13zM122 590.6h6v6h-6zM130 590.6h18v6h-18zM152 590.6h4v6h-4zM168 590.6h13v6h-13zM182 590.6h22v6h-22zM207 590.6h11v6h-11zM225 590.6h14v6h-14zM243 590.6h25v6h-25zM272 590.6h6v6h-6zM283 590.6h20v6h-20zM307 590.6h11v6h-11zM322 590.6h16v6h-16zM340 590.6h11v6h-11zM352 590.6h29v6h-29zM383 590.6h35v6h-35zM430 590.6h18v6h-18zM462 590.6h14v6h-14zM482 590.6h7v6h-7zM493 590.6h10v6h-10zM515 590.6h23v6h-23zM557 590.6h7v6h-7zM567 590.6h34v6h-34zM610 590.6h11v6h-11zM643 590.6h5v6h-5zM660 590.6h13v6h-13zM675 590.6h6v6h-6zM690 590.6h9v6h-9zM712 590.6h4v6h-4zM725 590.6h13v6h-13z"/>
<g fill="#a9a83a"><use href="#T" x="123" y="581"/><use href="#T" x="236" y="581"/><use href="#T" x="382" y="581"/><use href="#T" x="612" y="580"/><use href="#T" x="616" y="580"/><use href="#T" x="532" y="580"/><use href="#T" x="538" y="580"/></g>
<g fill="#d8aa50"><use href="#T" x="123" y="587"/><use href="#T" x="194" y="587"/><use href="#T" x="383" y="587"/><use href="#T" x="388" y="587"/></g>
<g fill="#7fd67f"><use href="#T" x="152" y="574"/><use href="#T" x="157" y="574"/><use href="#T" x="163" y="574"/><use href="#T" x="170" y="574"/><use href="#T" x="155" y="568"/><use href="#T" x="160" y="568"/><use href="#T" x="198" y="562"/><use href="#T" x="218" y="568"/><use href="#T" x="223" y="568"/><use href="#T" x="362" y="561"/><use href="#T" x="366" y="561"/><use href="#T" x="370" y="561"/><use href="#T" x="383" y="561"/><use href="#T" x="584" y="555"/><use href="#T" x="594" y="555"/><use href="#T" x="612" y="568"/><use href="#T" x="536" y="574"/><circle cx="612" cy="561" r="1.8"/><circle cx="612" cy="574" r="1.8"/></g>
<g fill="#66d6b0"><use href="#T" x="383" y="555"/><use href="#T" x="388" y="555"/><use href="#T" x="410" y="555"/></g>
<g fill="#b98ad6"><use href="#T" x="222" y="504"/><use href="#T" x="221" y="511"/><use href="#T" x="219" y="517"/><use href="#T" x="387" y="511"/></g>
<g fill="#8a9ae0"><use href="#T" x="216" y="523"/><use href="#T" x="606" y="529"/><circle cx="552" cy="523" r="1.8"/></g>
<g fill="#e07cc8"><use href="#T" x="362" y="504"/><use href="#T" x="563" y="492"/><use href="#T" x="556" y="498"/><use href="#T" x="604" y="492"/><use href="#T" x="609" y="492"/></g>
<g fill="#6fd3e6"><circle cx="563" cy="536" r="1.8"/><circle cx="561" cy="543" r="1.8"/><circle cx="558" cy="549" r="1.8"/></g>
<path fill="#dde1ea" fill-opacity=".5" d="M144 493h98v115h-98zM348 493h64v115h-64zM543 493h77v115h-77z"/>
<path class="db" d="M153 563h8v15h-8zM359 499h8v75h-8zM549 485h18v76h-18zM603 557h18v29h-18z"/>
<circle cx="728" cy="498" r="3.5" fill="#111"/><text x="734" y="502" font-size="10.5" fill="#222">hap1</text>
<path d="M724 513.5 728 506.5 732 513.5z" fill="#111"/><text x="734" y="514" font-size="10.5" fill="#222">hap2</text>
<rect x="674" y="518" width="13" height="13" fill="#eef0f5" stroke="#777" stroke-width=".8"/><text x="690" y="528.5" font-size="10.5" fill="#222">Variable region</text>
<rect class="db" x="674" y="534" width="13" height="13"/><text x="690" y="544" font-size="10.5" fill="#222">Coalescent tree</text>
<g class="ax" text-anchor="middle"><text x="64" y="621">0</text><text x="190" y="621">1</text><text x="316" y="621">2</text><text x="443" y="621">3</text><text x="570" y="621">4</text><text x="696" y="621">5</text><text x="740" y="627">(Mbp)</text></g>
<text transform="translate(17,550) rotate(-90)" text-anchor="middle" font-size="13.5" fill="#333">Tree topology</text>
</g>

<!-- trees -->
<g id="tree-I">
<path class="tr" d="M64 638V700M64 638H183M64 700H121M121 677V725M121 677H133M121 725H152M133 658V693M133 658H171M133 693H162M171 650V667M171 650H180M171 667H180M180 647V654M180 647H183M180 654H183M180 663V671M180 663H183M180 671H183M162 686V703M162 686H171M162 703H183M171 679V692M171 679H183M171 692H178M178 687V696M178 687H183M178 696H183M152 716V737M152 716H181M152 737H176M181 712V720M181 712H183M181 720H183M176 729V741M176 729H183M176 741H181M181 737V745M181 737H183M181 745H183"/>
<text class="lf"><tspan x="185" y="640">MFA.h1</tspan><tspan x="185" y="649">PPA.h2</tspan><tspan x="185" y="656">PPA.h1</tspan><tspan x="185" y="665">PTR.h2</tspan><tspan x="185" y="673">PTR.h1</tspan><tspan x="185" y="681">PAB.h1</tspan><tspan x="185" y="689">PPY.h2</tspan><tspan x="185" y="698">PPY.h1</tspan><tspan x="185" y="705">PAB.h2</tspan><tspan x="185" y="714">GGO.h2</tspan><tspan x="185" y="722">GGO.h1</tspan><tspan x="185" y="731">Human.h1</tspan><tspan x="185" y="739">HG002.h2</tspan><tspan x="185" y="747">HG002.h1</tspan></text>
<rect class="bb" x="183.5" y="708" width="27" height="15" rx="2"/>
<g class="nm"><text x="66.5" y="672">28.8</text><text x="133.5" y="681">12.17</text><text x="121.5" y="706">15.29</text></g>
<text class="rn" x="133" y="766">I</text>
</g>
<g id="tree-II">
<path class="tr" d="M237 640V718M237 640H347M237 718H273M273 698V740M273 698H283M273 740H345M345 737V743M345 737H347M345 743H347M283 675V712M283 675H323M283 712H333M333 712V726M333 712H338M333 726H342M338 709V716M338 709H347M338 716H347M342 723V729M342 723H347M342 729H347M323 657V698M323 657H337M323 684H335M323 698H335M337 652V668M337 652H341M337 668H347M341 650V661M341 650H344M341 661H347M344 647V653M344 647H347M344 653H347M335 674V684M335 674H347M335 684H344M344 681V688M344 681H347M344 688H347M335 695V702M335 695H347M335 702H347"/>
<text class="lf"><tspan x="349" y="642">MFA.h1</tspan><tspan x="349" y="649">HG002.h2</tspan><tspan x="349" y="655">HG002.h1</tspan><tspan x="349" y="663">Human.h1</tspan><tspan x="349" y="670">PTR.h2</tspan><tspan x="349" y="676">PTR.h1</tspan><tspan x="349" y="683">PPA.h2</tspan><tspan x="349" y="690">PPA.h1</tspan><tspan x="349" y="697">GGO.h2</tspan><tspan x="349" y="704">GGO.h1</tspan><tspan x="349" y="711">PPY.h2</tspan><tspan x="349" y="718">PPY.h1</tspan><tspan x="349" y="725">PAB.h1</tspan><tspan x="349" y="731">PAB.h2</tspan><tspan x="349" y="739">SSY.h1</tspan><tspan x="349" y="745">SSY.h2</tspan></text>
<rect class="bb" x="348" y="664" width="23" height="28" rx="2"/>
<g class="nm"><text x="236" y="683">28.8</text><text x="322" y="664">6.25</text><text x="322" y="691">6.49</text><text x="284" y="701">16.73</text><text x="273.5" y="727">19.5</text></g>
<text class="rn" x="307" y="766">II</text>
</g>
<g id="tree-III">
<path class="tr" d="M413 639V717M413 639H528M413 717H478M478 685V740M478 685H492M478 740H480M480 726V747M480 726H515M480 747H529M529 743V750M529 743H533M529 750H533M515 722.5V736M515 722.5H520M515 736H533M520 716V729M520 716H533M520 722.5H533M520 729H533M492 680V707M492 680H508M492 707H533M508 667V696M508 667H517M508 696H530M530 693V699M530 693H533M530 699H533M517 656V678M517 656H527M517 678H522M527 651.5V662M527 651.5H529M527 662H533M529 648V655M529 648H533M529 655H533M522 675V685M522 675H526M522 685H533M526 672V678M526 672H533M526 678H533"/>
<text class="lf"><tspan x="530" y="641">MFA.h1</tspan><tspan x="536" y="650">PTR.h2</tspan><tspan x="536" y="657">PTR.h1</tspan><tspan x="536" y="664">PPA.h1</tspan><tspan x="536" y="674">Human.h1</tspan><tspan x="536" y="680">HG002.h2</tspan><tspan x="536" y="687">HG002.h1</tspan><tspan x="536" y="695">GGO.h1</tspan><tspan x="536" y="701">GGO.h2</tspan><tspan x="536" y="709">PPA.h2</tspan><tspan x="536" y="718">PAB.h1</tspan><tspan x="536" y="724.5">PPY.h1</tspan><tspan x="536" y="731">PAB.h2</tspan><tspan x="536" y="738">PPY.h2</tspan><tspan x="536" y="745">SSY.h2</tspan><tspan x="536" y="752">SSY.h1</tspan></text>
<rect class="bb" x="533" y="703" width="25" height="9" rx="2"/>
<rect class="bb" x="533" y="739.5" width="25" height="14" rx="2"/>
<g class="nm"><text x="413.5" y="683">28.8</text><text x="492.5" y="701">10.1</text><text x="479" y="718">13.49</text><text x="480.5" y="741">13.09</text></g>
<text class="rn" x="485" y="766">III</text>
</g>
<g id="tree-IV">
<path class="tr" d="M581 641V718M581 641H697M581 718H626M626 700V738M626 700H630M626 738H668M668 730V745M668 730H693M668 745H690M693 726V733M693 726H697M693 733H697M690 740V749M690 740H697M690 749H697M630 684V719M630 684H655M630 719H697M655 656V706M655 656H693M655 684H678M655 706H693M693 649V663M693 649H697M693 656H697M693 663H697M678 678.5V694M678 678.5H690M678 694H697M690 672V685M690 672H697M690 678.5H697M690 685H697M693 703V709M693 703H697M693 709H697"/>
<text class="lf"><tspan x="699" y="643">MFA.h1</tspan><tspan x="699" y="651">PTR.h2</tspan><tspan x="699" y="658">PPA.h1</tspan><tspan x="699" y="665">PPA.h2</tspan><tspan x="699" y="674">Human.h1</tspan><tspan x="699" y="680.5">HG002.h1</tspan><tspan x="699" y="687">HG002.h2</tspan><tspan x="699" y="696">PTR.h1</tspan><tspan x="699" y="705">GGO.h1</tspan><tspan x="699" y="711">GGO.h2</tspan><tspan x="699" y="721">SSY.h2</tspan><tspan x="699" y="728">PAB.h1</tspan><tspan x="699" y="735">PAB.h2</tspan><tspan x="699" y="742">PPY.h1</tspan><tspan x="699" y="751">PPY.h2</tspan></text>
<rect class="bb" x="698" y="644.5" width="24" height="22" rx="2"/>
<rect class="bb" x="698" y="714.5" width="24" height="9" rx="2"/>
<g class="nm"><text x="583" y="683">28.8</text><text x="656" y="679">10.47</text><text x="630" y="704">16.84</text><text x="627" y="730">17.77</text></g>
<text class="rn" x="653" y="766">IV</text>
</g>
</svg>
